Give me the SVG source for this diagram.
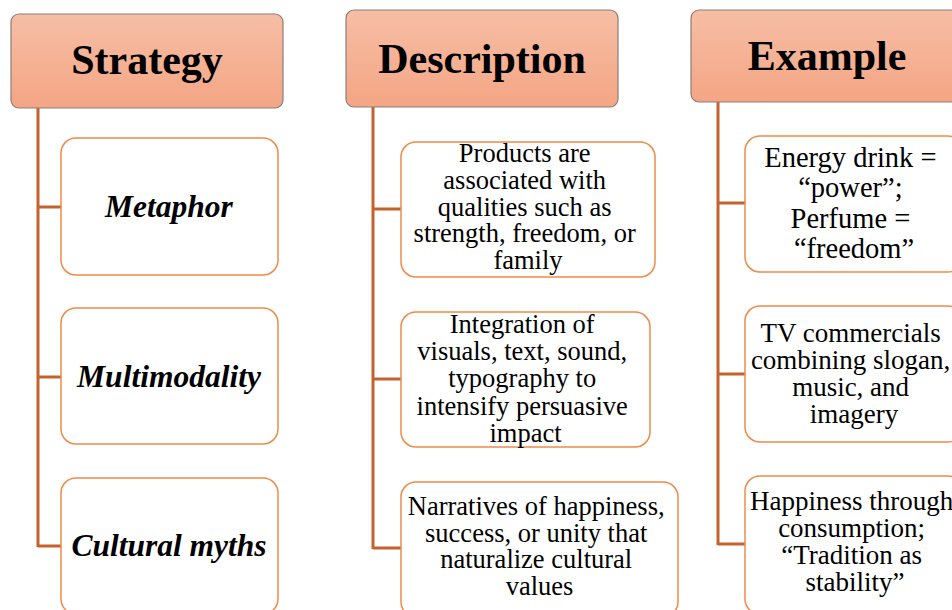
<svg xmlns="http://www.w3.org/2000/svg" width="952" height="610" viewBox="0 0 952 610">
  <defs>
    <linearGradient id="hdrFill" x1="0" y1="0" x2="0" y2="1">
      <stop offset="0" stop-color="#f6bea5"/>
      <stop offset="1" stop-color="#f4a584"/>
    </linearGradient>
    <style>
      .hdr { fill: url(#hdrFill); stroke: #8a7e7a; stroke-width: 1.2; }
      .hdr-t { font-family: "Liberation Serif", "Times New Roman", serif; font-weight: bold; font-size: 42px; fill: #000; text-anchor: middle; }
      .box { fill: #fff; stroke: #ef8a48; stroke-width: 1.5; }
      .lbl { font-family: "Liberation Serif", "Times New Roman", serif; font-weight: bold; font-style: italic; font-size: 31.5px; fill: #000; text-anchor: middle; }
      .txt { font-family: "Liberation Serif", "Times New Roman", serif; font-size: 26.5px; fill: #000; text-anchor: middle; }
      .txt3 { font-family: "Liberation Serif", "Times New Roman", serif; font-size: 27px; fill: #000; text-anchor: middle; }
      .lead { fill: none; stroke: #c4622d; stroke-width: 3; }
    </style>
  </defs>

  <!-- tree connectors -->
  <g id="connectors">
    <path class="lead" d="M38 108 V547 M38 207 H61 M38 377 H61 M38 546 H61"/>
    <path class="lead" d="M373 107 V549 M373 209 H401 M373 379 H401 M373 548 H401"/>
    <path class="lead" d="M718 102 V545 M718 203 H745 M718 374 H745 M718 544 H745"/>
  </g>

  <!-- column headers -->
  <g id="hdr-strategy">
    <rect class="hdr" x="11" y="14" width="272" height="94" rx="8"/>
    <text class="hdr-t" x="147" y="74">Strategy</text>
  </g>
  <g id="hdr-description">
    <rect class="hdr" x="346" y="10" width="272" height="97" rx="8"/>
    <text class="hdr-t" x="482" y="73">Description</text>
  </g>
  <g id="hdr-example">
    <rect class="hdr" x="691" y="10" width="272" height="92" rx="8"/>
    <text class="hdr-t" x="827" y="70">Example</text>
  </g>

  <!-- strategy column -->
  <g id="s-metaphor">
    <rect class="box" x="61" y="138" width="217" height="137" rx="15"/>
    <text class="lbl" x="169" y="217">Metaphor</text>
  </g>
  <g id="s-multimodality">
    <rect class="box" x="61" y="308" width="217" height="136" rx="15"/>
    <text class="lbl" x="169" y="387">Multimodality</text>
  </g>
  <g id="s-cultural-myths">
    <rect class="box" x="61" y="478" width="217" height="136" rx="15"/>
    <text class="lbl" x="169" y="556">Cultural myths</text>
  </g>

  <!-- description column -->
  <g id="d-metaphor">
    <rect class="box" x="401" y="142" width="254" height="135" rx="15"/>
    <text class="txt" x="528" y="162">
      <tspan x="528">Products are</tspan>
      <tspan x="528" dy="26.8">associated with</tspan>
      <tspan x="528" dy="26.8">qualities such as</tspan>
      <tspan x="528" dy="26.8">strength, freedom, or</tspan>
      <tspan x="528" dy="26.8">family</tspan>
    </text>
  </g>
  <g id="d-multimodality">
    <rect class="box" x="401" y="312" width="249" height="135" rx="15"/>
    <text class="txt" x="525.5" y="333">
      <tspan x="525.5">Integration of</tspan>
      <tspan x="525.5" dy="27.2">visuals, text, sound,</tspan>
      <tspan x="525.5" dy="27.2">typography to</tspan>
      <tspan x="525.5" dy="27.2">intensify persuasive</tspan>
      <tspan x="525.5" dy="27.2">impact</tspan>
    </text>
  </g>
  <g id="d-cultural-myths">
    <rect class="box" x="401" y="482" width="277" height="135" rx="15"/>
    <text class="txt" x="539.5" y="515">
      <tspan x="539.5">Narratives of happiness,</tspan>
      <tspan x="539.5" dy="26.7">success, or unity that</tspan>
      <tspan x="539.5" dy="26.7">naturalize cultural</tspan>
      <tspan x="539.5" dy="26.7">values</tspan>
    </text>
  </g>

  <!-- example column -->
  <g id="e-metaphor">
    <rect class="box" x="745" y="136" width="218" height="136" rx="15"/>
    <text class="txt3" x="854" y="167" style="font-size:28.5px">
      <tspan x="854">Energy drink =</tspan>
      <tspan x="854" dy="30.4">“power”;</tspan>
      <tspan x="854" dy="30.4">Perfume =</tspan>
      <tspan x="854" dy="30.4">“freedom”</tspan>
    </text>
  </g>
  <g id="e-multimodality">
    <rect class="box" x="745" y="306" width="218" height="136" rx="15"/>
    <text class="txt3" x="854" y="342">
      <tspan x="854">TV commercials</tspan>
      <tspan x="854" dy="27">combining slogan,</tspan>
      <tspan x="854" dy="27">music, and</tspan>
      <tspan x="854" dy="27">imagery</tspan>
    </text>
  </g>
  <g id="e-cultural-myths">
    <rect class="box" x="745" y="476" width="218" height="138" rx="15"/>
    <text class="txt3" x="855" y="510">
      <tspan x="855">Happiness through</tspan>
      <tspan x="855" dy="27">consumption;</tspan>
      <tspan x="855" dy="27">“Tradition as</tspan>
      <tspan x="855" dy="27">stability”</tspan>
    </text>
  </g>
</svg>
